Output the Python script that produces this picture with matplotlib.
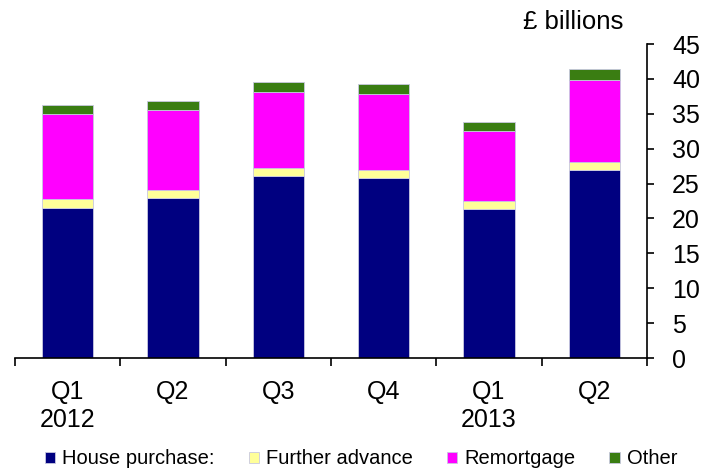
import matplotlib.pyplot as plt
import numpy as np

plt.rcParams['font.family'] = ['Liberation Sans', 'DejaVu Sans']

# quarters (tick labels)
quarters = ['Q1\n2012', 'Q2', 'Q3', 'Q4', 'Q1\n2013', 'Q2']

# £ billions
house_purchase = [21.5, 22.9, 26.05, 25.8, 21.3, 26.9]
further_advance = [1.25, 1.2, 1.25, 1.2, 1.25, 1.2]
remortgage = [12.25, 11.45, 10.75, 10.9, 9.95, 11.8]
other = [1.3, 1.25, 1.45, 1.3, 1.3, 1.55]

labels = ['House purchase:', 'Further advance', 'Remortgage', 'Other']
colours = ['#000080', '#FFFF99', '#FF00FF', '#3A7D12']

fig = plt.figure(figsize=(7.03, 4.70), dpi=100)
ax = fig.add_axes([15/703, 1-358/470, (647-15)/703, (358-44)/470])

x = np.arange(len(quarters))
bottom = np.zeros(len(quarters))
for vals, lab, col in zip([house_purchase, further_advance, remortgage, other], labels, colours):
    ax.bar(x, vals, width=0.485, bottom=bottom, color=col, label=lab,
           edgecolor='#C8C8E0', linewidth=0.6)
    bottom += np.array(vals)

ax.set_xlim(-0.5, len(quarters)-0.5)
ax.set_ylim(0, 45)

# y axis on the right
ax.yaxis.tick_right()
ax.set_yticks(np.arange(0, 46, 5))
ax.tick_params(axis='y', direction='out', length=5, width=1.2, labelsize=18, pad=13)
ax.spines['left'].set_visible(False)
ax.spines['top'].set_visible(False)
ax.spines['right'].set_linewidth(1.2)
ax.spines['bottom'].set_linewidth(1.2)

# x axis: labels in the middle, ticks on the boundaries
ax.set_xticks(x)
ax.set_xticklabels(quarters, fontsize=18, linespacing=1.22)
ax.tick_params(axis='x', which='major', length=0, pad=16)
ax.set_xticks(np.arange(-0.5, len(quarters), 1), minor=True)
ax.tick_params(axis='x', which='minor', direction='out', length=6, width=1.2)

fig.text(623/703, 1-22/470, '£ billions', fontsize=18.5, ha='right', va='center')

fig.legend(loc='center', bbox_to_anchor=(361/703, 1-459/470), ncol=4, frameon=False,
           fontsize=14.5, handlelength=0.5, handleheight=0.5, handletextpad=0.35,
           columnspacing=1.7, borderaxespad=0)

fig.savefig('out.png', dpi=100)
